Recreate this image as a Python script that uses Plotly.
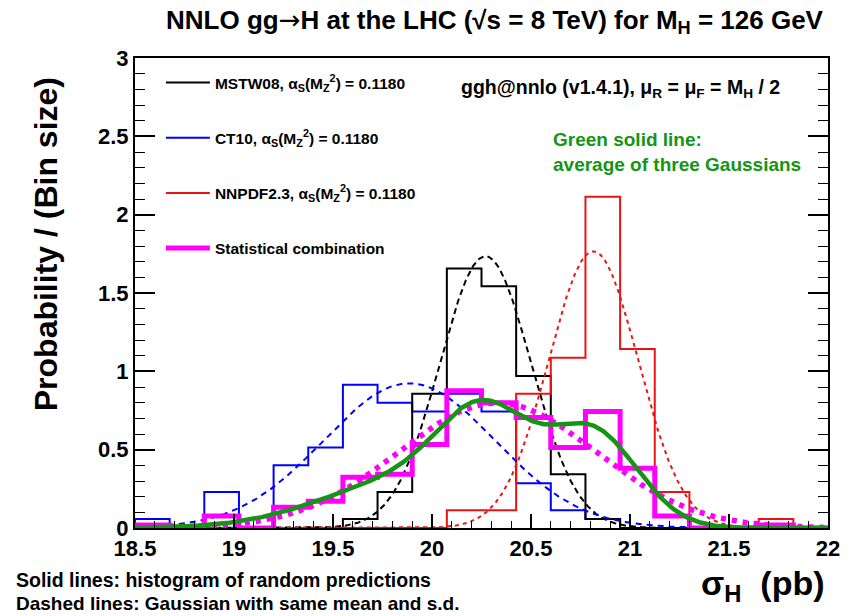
import numpy as np
import plotly.graph_objects as go

# ---- binning of the random predictions ----
X_MIN, X_MAX, N_BINS = 18.5, 22.0, 20
bin_edges = np.linspace(X_MIN, X_MAX, N_BINS + 1)

# probability / (bin size) for each bin
mstw08 = [0, 0, 0, 0, 0, 0, 0.057, 0.229, 0.857, 1.657,
          1.543, 0.971, 0.343, 0.057, 0, 0, 0, 0, 0, 0]
ct10 = [0.057, 0, 0.229, 0, 0.400, 0.514, 0.914, 0.800, 0.743, 0.857,
        0.743, 0.286, 0.114, 0.057, 0, 0, 0, 0, 0, 0]
nnpdf23 = [0, 0, 0, 0, 0, 0, 0, 0, 0, 0.114,
           0.114, 0.857, 1.086, 2.114, 1.143, 0.229, 0, 0, 0.057, 0]
combination = [0.019, 0, 0.076, 0, 0.133, 0.171, 0.324, 0.343, 0.533, 0.876,
               0.800, 0.705, 0.514, 0.743, 0.381, 0.076, 0, 0, 0.019, 0]

# Gaussian with the same mean and s.d. as each sample (pb)
pdf_names = ["MSTW08", "CT10", "NNPDF2.3"]
gauss_mean = [20.27, 19.885, 20.815]
gauss_sd = [0.230, 0.432, 0.226]
comb_mean, comb_sd = 20.33, 0.50

x_ticks = [18.5, 19.0, 19.5, 20.0, 20.5, 21.0, 21.5, 22.0]
x_tick_text = ["18.5", "19", "19.5", "20", "20.5", "21", "21.5", "22"]

FONT = "Liberation Sans, Arial, Helvetica, sans-serif"
GREEN = "rgb(20,150,20)"
RED = "rgb(235,20,20)"


def step_outline(values):
    xs = [bin_edges[0]] + list(bin_edges)
    ys = [0] + list(values) + [0]
    return xs, ys


def gaussian(x, mu, sd):
    return np.exp(-0.5 * ((x - mu) / sd) ** 2) / (sd * np.sqrt(2 * np.pi))


xg = np.linspace(X_MIN, X_MAX, 701)

fig = go.Figure()

hist_specs = [
    (ct10, "blue", "CT10", 2),
    (mstw08, "black", "MSTW08", 1),
    (nnpdf23, RED, "NNPDF2.3", 3),
]
for vals, col, name, rank in hist_specs:
    hx, hy = step_outline(vals)
    label = f"{name}, α<sub>S</sub>(M<sub>Z</sub><sup>2</sup>) = 0.1180"
    fig.add_trace(go.Scatter(
        x=hx, y=hy, mode="lines", line=dict(color=col, width=2, shape="hv"),
        name=label, legendgroup=name, legendrank=rank, showlegend=True,
        hoverinfo="skip"))

dash_styles = {"MSTW08": ("black", "6px,4px"),
               "CT10": ("blue", "6px,5px"),
               "NNPDF2.3": (RED, "4px,4px")}
for name, mu, sd in zip(pdf_names, gauss_mean, gauss_sd):
    col, dash = dash_styles[name]
    fig.add_trace(go.Scatter(
        x=xg, y=gaussian(xg, mu, sd), mode="lines",
        line=dict(color=col, width=2, dash=dash),
        showlegend=False, hoverinfo="skip"))

hx, hy = step_outline(combination)
fig.add_trace(go.Scatter(
    x=hx, y=hy, mode="lines", line=dict(color="magenta", width=5, shape="hv"),
    name="Statistical combination", legendgroup="comb", legendrank=4,
    hoverinfo="skip"))
fig.add_trace(go.Scatter(
    x=xg, y=gaussian(xg, comb_mean, comb_sd), mode="lines",
    line=dict(color="magenta", width=5.5, dash="5px,6px"),
    showlegend=False, hoverinfo="skip"))

# average of the three Gaussians
avg = sum(gaussian(xg, m, s) for m, s in zip(gauss_mean, gauss_sd)) / 3
fig.add_trace(go.Scatter(
    x=xg, y=avg, mode="lines", line=dict(color=GREEN, width=4.5),
    showlegend=False, hoverinfo="skip"))

L, R, T, B = 135, 22, 58, 88
W, H = 852, 616
PW, PH = W - L - R, H - T - B


def px(xp):
    return (xp - L) / PW


def py(yp):
    return (H - B - yp) / PH


fig.update_layout(
    width=W, height=H,
    margin=dict(l=L, r=R, t=T, b=B),
    paper_bgcolor="white", plot_bgcolor="white",
    font=dict(family=FONT, color="black"),
    legend=dict(
        x=px(161), y=py(66), xanchor="left", yanchor="top",
        bgcolor="rgba(0,0,0,0)", borderwidth=0,
        font=dict(family=FONT, size=15.5, weight="bold"),
        traceorder="grouped", tracegroupgap=32, itemwidth=44,
    ),
    xaxis=dict(
        range=[X_MIN, X_MAX], tickvals=x_ticks, ticktext=x_tick_text,
        ticks="inside", ticklen=14, tickwidth=1.5, tickcolor="black",
        minor=dict(ticks="inside", ticklen=7, dtick=0.1, tick0=18.5,
                   tickcolor="black", tickwidth=1.2),
        showline=True, linewidth=2, linecolor="black", mirror=True,
        showgrid=False, zeroline=False,
        tickfont=dict(family=FONT, size=22, weight="bold"),
    ),
    yaxis=dict(
        range=[0, 3], tick0=0, dtick=0.5,
        ticks="inside", ticklen=20, tickwidth=1.5, tickcolor="black",
        minor=dict(ticks="inside", ticklen=10, dtick=0.1,
                   tickcolor="black", tickwidth=1.2),
        showline=True, linewidth=2, linecolor="black", mirror="allticks",
        showgrid=False, zeroline=False,
        tickfont=dict(family=FONT, size=22, weight="bold"),
    ),
)

arrow = "<span style='font-family:DejaVu Sans;font-weight:normal'>→</span>"
annotations = [
    dict(text=f"NNLO gg{arrow}H at the LHC (√s = 8 TeV) for M<sub>H</sub> = 126 GeV",
         x=px(496), y=py(22), font=dict(size=26, weight="bold"),
         xanchor="center", yanchor="middle"),
    dict(text="Probability / (Bin size)", x=px(46), y=py(244), textangle=-90,
         font=dict(size=32, weight="bold"), xanchor="center", yanchor="middle"),
    dict(text="ggh@nnlo (v1.4.1), μ<sub>R</sub> = μ<sub>F</sub> = M<sub>H</sub> / 2",
         x=px(460), y=py(88), font=dict(size=19.5, weight="bold"),
         xanchor="left", yanchor="middle"),
    dict(text="Green solid line:", x=px(552), y=py(139),
         font=dict(size=19, weight="bold", color=GREEN),
         xanchor="left", yanchor="middle"),
    dict(text="average of three Gaussians", x=px(552), y=py(164),
         font=dict(size=19, weight="bold", color=GREEN),
         xanchor="left", yanchor="middle"),
    dict(text="Solid lines: histogram of random predictions",
         x=px(14), y=py(580), font=dict(size=19.5, weight="bold"),
         xanchor="left", yanchor="middle"),
    dict(text="Dashed lines: Gaussian with same mean and s.d.",
         x=px(14), y=py(603), font=dict(size=19, weight="bold"),
         xanchor="left", yanchor="middle"),
    dict(text="σ<sub>H</sub>  (pb)", x=px(829), y=py(585),
         font=dict(size=34, weight="bold"), xanchor="right", yanchor="middle"),
]
for a in annotations:
    a.update(xref="paper", yref="paper", showarrow=False)
fig.update_layout(annotations=annotations)

fig.write_html("out.html")
